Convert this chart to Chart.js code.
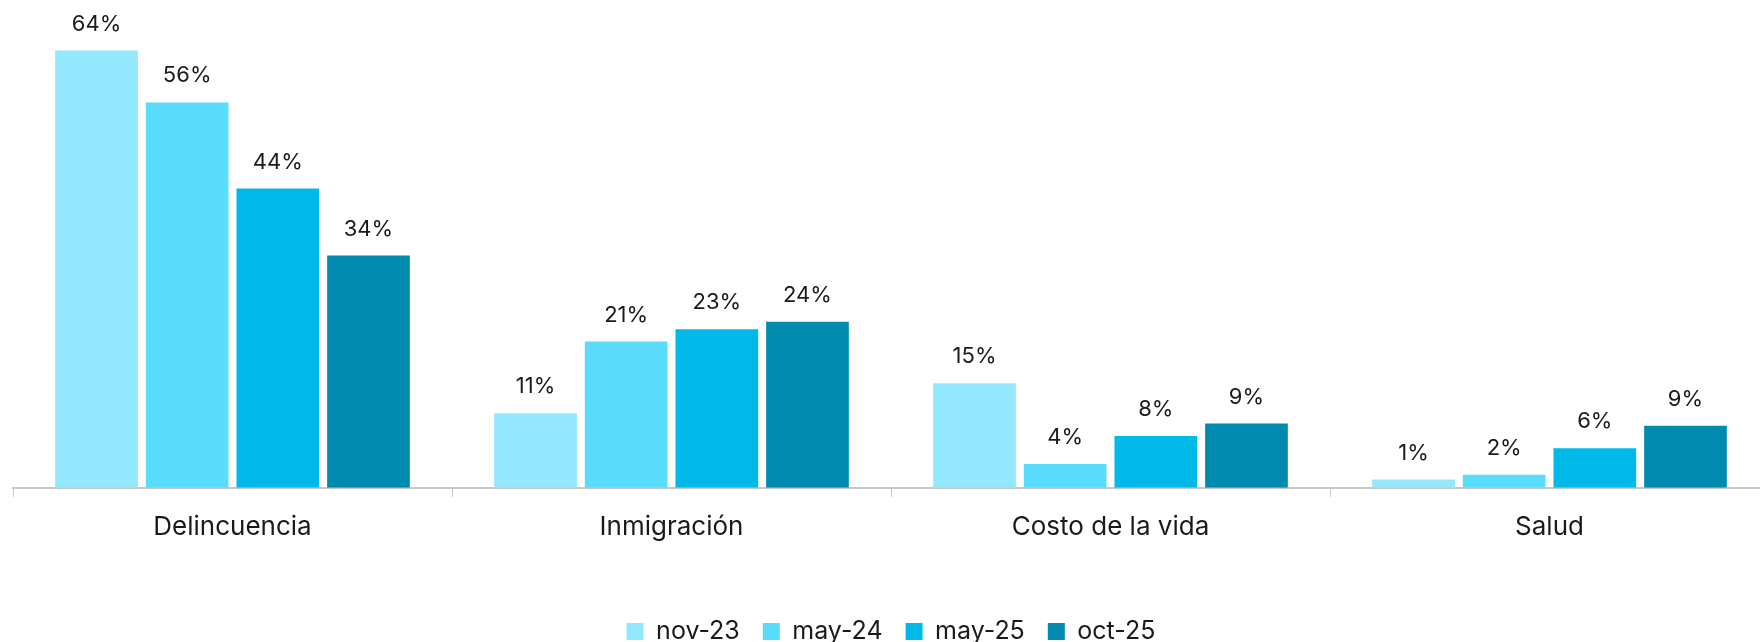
<!DOCTYPE html>
<html lang="es">
<head>
    <meta charset="UTF-8">
    <title>Principales preocupaciones</title>
    <script src="https://cdn.jsdelivr.net/npm/chart.js"></script>
    <style>
        html, body {
            margin: 0;
            padding: 0;
            background: #ffffff;
            overflow: hidden;
        }
        .chart-wrap {
            position: relative;
            width: 1769px;
            height: 642px;
        }
    </style>
</head>
<body>
    <div class="chart-wrap">
        <canvas id="mainChart"></canvas>
    </div>

    <script>
        const categories = ['Delincuencia', 'Inmigración', 'Costo de la vida', 'Salud'];
        const seriesNames = ['nov-23', 'may-24', 'may-25', 'oct-25'];

        // values (labels show the rounded figure)
        const nov23 = [64, 10.9, 15.3, 1.2];
        const may24 = [56.4, 21.4, 3.5, 1.9];
        const may25 = [43.8, 23.2, 7.6, 5.8];
        const oct25 = [34, 24.3, 9.4, 9.1];

        const colors = ['#93e8fd', '#5adcfd', '#00b9e8', '#008ab0'];
        const FONT = 'Inter, "Noto Sans", sans-serif';

        // draws the % figure above each bar
        const barLabels = {
            id: 'barLabels',
            afterDatasetsDraw(chart) {
                const ctx = chart.ctx;
                ctx.save();
                ctx.font = '22px ' + FONT;
                ctx.fillStyle = '#1a1a1a';
                ctx.textAlign = 'center';
                ctx.textBaseline = 'alphabetic';
                chart.data.datasets.forEach((ds, i) => {
                    chart.getDatasetMeta(i).data.forEach((bar, j) => {
                        ctx.fillText(Math.round(ds.data[j]) + '%', bar.x, bar.y - 20);
                    });
                });
                ctx.restore();
            }
        };

        const allSeries = [nov23, may24, may25, oct25];

        new Chart(document.getElementById('mainChart'), {
            type: 'bar',
            data: {
                labels: categories,
                datasets: allSeries.map((vals, i) => ({
                    label: seriesNames[i],
                    data: vals,
                    backgroundColor: colors[i],
                    categoryPercentage: 0.826,
                    barPercentage: 0.912
                }))
            },
            options: {
                responsive: true,
                maintainAspectRatio: false,
                animation: false,
                layout: {
                    padding: { left: 13, right: 0, top: 0, bottom: -12 }
                },
                plugins: {
                    tooltip: { enabled: false },
                    legend: {
                        position: 'bottom',
                        labels: {
                            boxWidth: 17,
                            boxHeight: 17,
                            padding: 23,
                            color: '#1a1a1a',
                            font: { family: FONT, size: 25 }
                        }
                    }
                },
                scales: {
                    x: {
                        grid: {
                            offset: true,
                            drawOnChartArea: false,
                            tickLength: 9,
                            color: '#c8c8c8'
                        },
                        border: { color: '#c8c8c8', width: 2 },
                        ticks: {
                            color: '#1a1a1a',
                            padding: 15,
                            font: { family: FONT, size: 26 }
                        },
                        afterFit(scale) {
                            scale.height += 38;
                        }
                    },
                    y: {
                        display: false,
                        min: 0,
                        max: 71.4
                    }
                }
            },
            plugins: [barLabels]
        });
    </script>
</body>
</html>
